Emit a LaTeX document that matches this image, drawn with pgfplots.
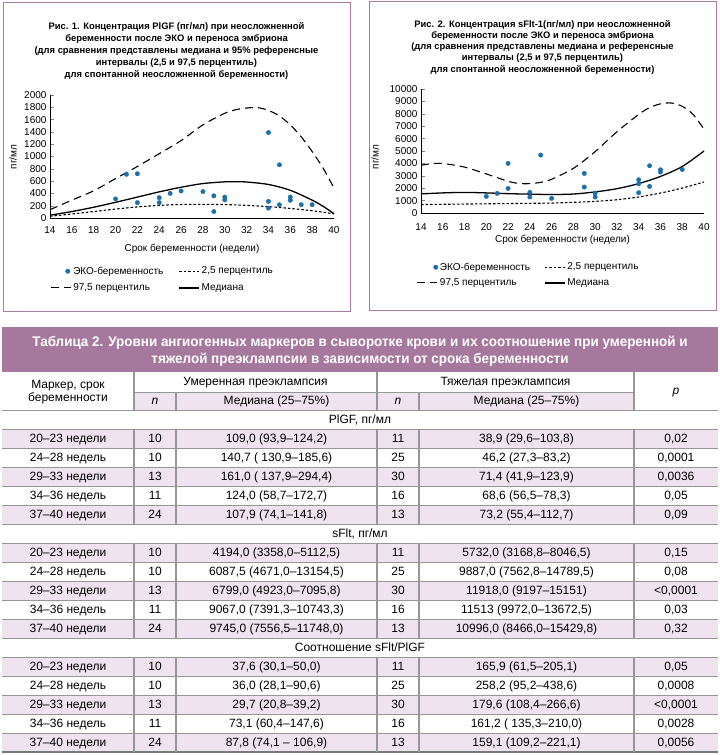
\documentclass[border=0pt]{standalone}
\usepackage{fontspec}
\setmainfont{Liberation Sans}
\newfontfamily\tabfont{Liberation Sans}
\newfontfamily\hdrfont[FakeStretch=0.96]{Liberation Sans}
\usepackage{pgfplots}
\pgfplotsset{compat=1.18}

\definecolor{frame}{RGB}{170,122,163}
\definecolor{hdr}{RGB}{166,120,158}
\definecolor{rowpink}{RGB}{238,227,238}
\definecolor{dotblue}{RGB}{30,110,170}
\definecolor{rule}{RGB}{150,150,150}

\newcommand\ttl{\fontsize{9.4}{11}\bfseries\selectfont}
\newcommand\lbl{\fontsize{10}{12}\selectfont}
\newcommand\tb{\tabfont\fontsize{12}{14}\selectfont}

% one table row: y centre, then six cells
\newcommand\datarow[7]{%
  \node[anchor=base] at (68,#1+4) {#2};
  \node[anchor=base] at (155,#1+4) {#3};
  \node[anchor=base] at (276.5,#1+4) {#4};
  \node[anchor=base] at (398,#1+4) {#5};
  \node[anchor=base] at (526.5,#1+4) {#6};
  \node[anchor=base] at (676,#1+4) {#7};}

\pgfplotsset{
  vko/.style={
    scale only axis, anchor=south west,
    xmin=14, xmax=40, ymin=0,
    axis x line*=bottom, axis y line*=left,
    axis line style={line width=0.6pt},
    xtick={14,16,...,40},
    every x tick/.style={draw=none},
    tick align=inside, major tick length=4pt,
    ticklabel style={font=\lbl},
    /pgf/number format/assume math mode=true,
    /pgf/number format/1000 sep={},
    scaled y ticks=false,
    label style={font=\lbl},
    legend columns=2,
    legend cell align=left,
    clip=false,
  },
  lineleg/.style={legend image code/.code={\draw[##1] (0pt,0pt) -- (20pt,0pt);}},
  dotleg/.style={legend image code/.code={\path[draw=none, fill=none] (0pt,0pt) -- (20pt,0pt);
      \draw[##1] plot coordinates {(#1,0pt)};}},
  eko/.style={only marks, mark=*, mark size=2.2pt, dotblue},
  p975/.style={black, line width=1.1pt, dash pattern=on 8pt off 5pt, smooth, lineleg},
  p25/.style={black, line width=1.1pt, dash pattern=on 2.5pt off 2pt, smooth, lineleg},
  pmed/.style={black, line width=1.3pt, smooth, lineleg},
}

\begin{document}
\begin{tikzpicture}

% Fig. 1: PlGF
\begin{axis}[vko, at={(50pt,537pt)}, width=284pt, height=123pt,
  ymax=2000, ytick={0,200,...,2000},
  xticklabel style={yshift=-5pt},
  xlabel={Срок беременности (недели)},
  xlabel style={at={(axis description cs:0.5,0)}, anchor=center, yshift=-31pt},
  legend style={draw=none, fill=none, font=\lbl, at={(0,0)}, anchor=north west,
    xshift=-3pt, yshift=-44.6pt, row sep=4pt,
    /tikz/every even column/.append style={column sep=13pt}},
]
\addplot[eko, dotleg=17pt]
  coordinates {(20,310) (21,710) (22,720) (22,250) (24,330) (24,250) (25,400) (26,440)
  (28,430) (29,360) (29,105) (30,340) (30,295) (34,1390) (34,270) (34,160) (35,865)
  (35,215) (36,340) (36,288) (37,216) (38,216)};
\addplot[p25] coordinates {(14,28) (16,65) (18,105) (20,145) (22,180) (24,205) (26,220)
  (28,222) (30,218) (32,205) (34,185) (36,155) (38,118) (40,68)};
\addplot[p975] coordinates {(14,135) (16,290) (18,443) (20,640) (22,838) (24,1045) (26,1259)
  (28,1514) (30,1703) (31,1760) (32,1788) (33,1795) (34,1750) (35,1660) (36,1514) (37,1320)
  (38,1081) (39,811) (40,486)};
\addplot[pmed] coordinates {(14,45) (16,105) (18,175) (20,255) (22,340) (24,425) (26,500)
  (28,560) (30,588) (31,590) (32,585) (34,545) (36,450) (38,290) (39,190) (40,70)};
\legend{ЭКО-беременность, {2,5 перцентиль}, {97,5 перцентиль}, Медиана}
\end{axis}

% Fig. 2: sFlt-1
\begin{axis}[vko, at={(421pt,542pt)}, width=283pt, height=124pt,
  ymax=10000, ytick={0,1000,...,10000},
  xticklabel style={yshift=-7pt},
  xlabel={Срок беременности (недели)},
  xlabel style={at={(axis description cs:0.5,0)}, anchor=center, yshift=-27pt},
  legend style={draw=none, fill=none, font=\lbl, at={(0,0)}, anchor=north west,
    xshift=-8pt, yshift=-45.6pt, row sep=3pt,
    /tikz/every even column/.append style={column sep=12pt}},
]
\addplot[eko, dotleg=19pt]
  coordinates {(20,1340) (21,1580) (22,4000) (22,1980) (24,1660) (24,1290) (25,4670)
  (26,1180) (29,3190) (29,2090) (30,1610) (30,1290) (34,2680) (34,2360) (34,1635)
  (35,3810) (35,2145) (36,3485) (36,3300) (38,3510)};
\addplot[p25] coordinates {(14,680) (16,700) (18,720) (20,740) (22,760) (24,780) (26,800)
  (28,860) (30,940) (32,1070) (34,1290) (36,1610) (38,2010) (40,2500)};
\addplot[p975] coordinates {(14,3850) (15,3980) (16,3990) (18,3700) (20,3150) (22,2560)
  (23,2380) (24,2370) (25,2470) (26,2720) (28,3600) (30,4950) (32,6550) (34,7950)
  (35,8500) (36,8800) (37,8870) (38,8600) (39,7950) (40,6750)};
\addplot[pmed] coordinates {(14,1540) (16,1620) (18,1660) (20,1620) (22,1560) (24,1520)
  (26,1490) (28,1530) (30,1700) (32,1960) (34,2370) (36,2950) (38,3750) (40,5000)};
\legend{ЭКО-беременность, {2,5 перцентиль}, {97,5 перцентиль}, Медиана}
\end{axis}

\begin{scope}[x=1pt, y=1pt, shift={(0pt,755pt)}, yscale=-1]
  % panels
  \draw[frame, line width=1pt] (3,3) rectangle (350,312);
  \draw[frame, line width=1pt] (369,2) rectangle (716,311);

  % y axis labels
  \node[rotate=90, font=\lbl] at (13,157) {пг/мл};
  \node[rotate=90, font=\lbl] at (375,157) {пг/мл};

  % titles of the figures
  \node[anchor=base, font=\ttl] at (176.5,30) {Рис. 1. Концентрация PlGF (пг/мл) при неосложненной};
  \node[anchor=base, font=\ttl] at (176.5,41.8) {беременности после ЭКО и переноса эмбриона};
  \node[anchor=base, font=\ttl] at (176.5,53.6) {(для сравнения представлены медиана и 95\% референсные};
  \node[anchor=base, font=\ttl] at (176.5,65.4) {интервалы (2,5 и 97,5 перцентиль)};
  \node[anchor=base, font=\ttl] at (176.5,77.2) {для спонтанной неосложненной беременности)};

  \node[anchor=base, font=\ttl] at (542.5,27.2) {Рис. 2. Концентрация sFlt-1(пг/мл) при неосложненной};
  \node[anchor=base, font=\ttl] at (542.5,38.5) {беременности после ЭКО и переноса эмбриона};
  \node[anchor=base, font=\ttl] at (542.5,49.7) {(для сравнения представлены медиана и референсные};
  \node[anchor=base, font=\ttl] at (542.5,61) {интервалы (2,5 и 97,5 перцентиль)};
  \node[anchor=base, font=\ttl] at (542.5,72.2) {для спонтанной неосложненной беременности)};

  % table header
  \fill[hdr] (2,327) rectangle (718,372);
  \node[anchor=base, text=white, font=\hdrfont\fontsize{14}{16}\bfseries\selectfont] at (360,347)
    {Таблица 2. Уровни ангиогенных маркеров в сыворотке крови и их соотношение при умеренной и};
  \node[anchor=base, text=white, font=\hdrfont\fontsize{14}{16}\bfseries\selectfont] at (360,364)
    {тяжелой преэклампсии в зависимости от срока беременности};

  \fill[rowpink] (134,392) rectangle (634,410);
  \draw[rule, line width=0.6pt] (134,392) -- (634,392);
  \foreach \xx in {134,377,634} \draw[rule, line width=1.2pt] (\xx,372) -- (\xx,410);
  \foreach \xx in {176,419} \draw[rule, line width=1.2pt] (\xx,392) -- (\xx,410);
  \begin{scope}[font=\tb]
    \node[anchor=base] at (68,389) {Маркер, срок};
    \node[anchor=base] at (68,402) {беременности};
    \node[anchor=base] at (255.5,386) {Умеренная преэклампсия};
    \node[anchor=base] at (505.5,386) {Тяжелая преэклампсия};
    \node[anchor=base] at (155,405) {\itshape n};
    \node[anchor=base] at (398,405) {\itshape n};
    \node[anchor=base] at (276.5,405) {Медиана (25–75\%)};
    \node[anchor=base] at (526.5,405) {Медиана (25–75\%)};
    \node[anchor=base] at (676,395) {\itshape p};
  \end{scope}

  % table body
  \foreach \s in {0,1,2}
    \foreach \j in {1,3,5}
      \fill[rowpink] (2,{410+114*\s+19*\j}) rectangle (718,{429+114*\s+19*\j});
  \foreach \k in {0,...,17}
    \draw[rule, line width=0.6pt] (2,{410+19*\k}) -- (718,{410+19*\k});
  \draw[rule!80!black, line width=1.4pt] (2,752) -- (718,752);
  \foreach \s in {0,1,2}
    \foreach \xx in {134,176,377,419,634}
      \draw[rule, line width=1.2pt] (\xx,{429+114*\s}) -- (\xx,{524+114*\s});

  \begin{scope}[font=\tb]
    \node[anchor=base] at (360,423.5) {PlGF, пг/мл};
    \datarow{438.5}{20–23 недели}{10}{109,0 (93,9–124,2)}{11}{38,9 (29,6–103,8)}{0,02}
    \datarow{457.5}{24–28 недель}{10}{140,7 ( 130,9–185,6)}{25}{46,2 (27,3–83,2)}{0,0001}
    \datarow{476.5}{29–33 недели}{13}{161,0 ( 137,9–294,4)}{30}{71,4 (41,9–123,9)}{0,0036}
    \datarow{495.5}{34–36 недель}{11}{124,0 (58,7–172,7)}{16}{68,6 (56,5–78,3)}{0,05}
    \datarow{514.5}{37–40 недели}{24}{107,9 (74,1–141,8)}{13}{73,2 (55,4–112,7)}{0,09}
    \node[anchor=base] at (360,537.5) {sFlt, пг/мл};
    \datarow{552.5}{20–23 недели}{10}{4194,0 (3358,0–5112,5)}{11}{5732,0 (3168,8–8046,5)}{0,15}
    \datarow{571.5}{24–28 недель}{10}{6087,5 (4671,0–13154,5)}{25}{9887,0 (7562,8–14789,5)}{0,08}
    \datarow{590.5}{29–33 недели}{13}{6799,0 (4923,0–7095,8)}{30}{11918,0 (9197–15151)}{<0,0001}
    \datarow{609.5}{34–36 недель}{11}{9067,0 (7391,3–10743,3)}{16}{11513 (9972,0–13672,5)}{0,03}
    \datarow{628.5}{37–40 недели}{24}{9745,0 (7556,5–11748,0)}{13}{10996,0 (8466,0–15429,8)}{0,32}
    \node[anchor=base] at (360,651.5) {Соотношение sFlt/PlGF};
    \datarow{666.5}{20–23 недели}{10}{37,6 (30,1–50,0)}{11}{165,9 (61,5–205,1)}{0,05}
    \datarow{685.5}{24–28 недель}{10}{36,0 (28,1–90,6)}{25}{258,2 (95,2–438,6)}{0,0008}
    \datarow{704.5}{29–33 недели}{13}{29,7 (20,8–39,2)}{30}{179,6 (108,4–266,6)}{<0,0001}
    \datarow{723.5}{34–36 недель}{11}{73,1 (60,4–147,6)}{16}{161,2 ( 135,3–210,0)}{0,0028}
    \datarow{742.5}{37–40 недели}{24}{87,8 (74,1 – 106,9)}{13}{159,1 (109,2–221,1)}{0,0056}
  \end{scope}
\end{scope}

\pgfresetboundingbox
\path[use as bounding box] (0pt,0pt) rectangle (720pt,755pt);
\end{tikzpicture}
\end{document}
